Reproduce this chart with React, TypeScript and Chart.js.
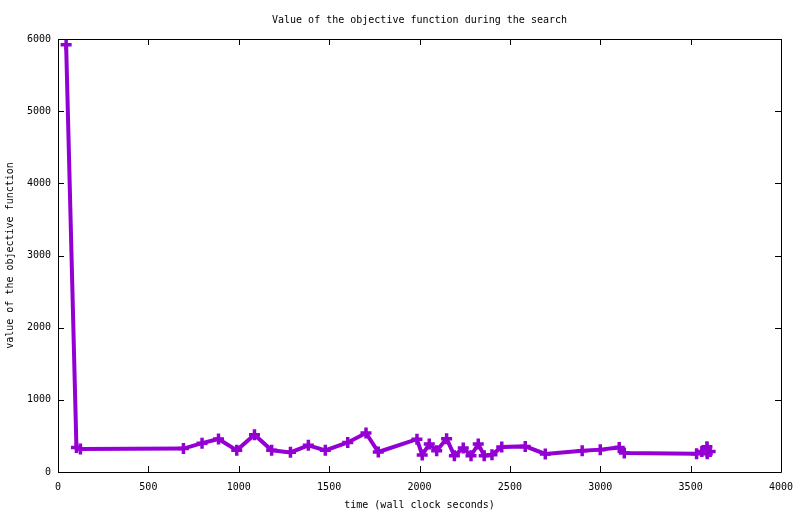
import { useEffect, useRef } from 'react';
import Chart from 'chart.js/auto';

// wall clock seconds / objective value
const times = [
  45, 102, 124, 694, 797, 888, 989, 1087, 1182, 1286, 1385, 1479, 1603, 1704,
  1772, 1986, 2015, 2054, 2095, 2150, 2193, 2242, 2285, 2325, 2358, 2401, 2455,
  2585, 2696, 2900, 3000, 3105, 3133, 3533, 3562, 3590, 3592, 3608,
];
const values = [
  5920, 340, 320, 325, 400, 457, 300, 517, 300, 272, 369, 300, 410, 540,
  277, 455, 235, 388, 295, 461, 226, 332, 226, 388, 226, 240, 345,
  355, 250, 295, 310, 340, 263, 254, 285, 350, 254, 285,
];

const xTicks = [0, 500, 1000, 1500, 2000, 2500, 3000, 3500, 4000];
const yTicks = [0, 1000, 2000, 3000, 4000, 5000, 6000];

const FONT = "'DejaVu Sans Mono', monospace";
const TITLE = 'Value of the objective function during the search';

// gnuplot-ish frame: box round the plot, ticks pointing inward on all sides, title centred on plot
const framePlugin = {
  id: 'frame',
  afterDraw(chart: Chart) {
    const { ctx, chartArea } = chart;
    const { left, right, top, bottom } = chartArea;
    const xs = chart.scales.x;
    const ys = chart.scales.y;
    ctx.save();
    ctx.strokeStyle = '#000';
    ctx.lineWidth = 1;
    ctx.beginPath();
    ctx.rect(Math.round(left) + 0.5, Math.round(top) + 0.5, Math.round(right - left), Math.round(bottom - top));
    const len = 6;
    xTicks.forEach(v => {
      const px = Math.round(xs.getPixelForValue(v)) + 0.5;
      ctx.moveTo(px, bottom);
      ctx.lineTo(px, bottom - len);
      ctx.moveTo(px, top);
      ctx.lineTo(px, top + len);
    });
    yTicks.forEach(v => {
      const py = Math.round(ys.getPixelForValue(v)) + 0.5;
      ctx.moveTo(left, py);
      ctx.lineTo(left + len, py);
      ctx.moveTo(right, py);
      ctx.lineTo(right - len, py);
    });
    ctx.stroke();

    ctx.fillStyle = '#000';
    ctx.font = `10px ${FONT}`;
    ctx.textAlign = 'center';
    ctx.textBaseline = 'middle';
    ctx.fillText(TITLE, (left + right) / 2, 20);
    ctx.restore();
  },
};

export default function App() {
  const chartRef = useRef<HTMLCanvasElement>(null);
  const chartInstance = useRef<Chart | null>(null);

  useEffect(() => {
    if (chartRef.current) {
      if (chartInstance.current) {
        chartInstance.current.destroy();
      }

      const ctx = chartRef.current.getContext('2d');
      if (ctx) {
        chartInstance.current = new Chart(ctx, {
          type: 'scatter',
          data: {
            datasets: [{
              data: times.map((t, i) => ({ x: t, y: values[i] })),
              showLine: true,
              borderColor: '#9400D3',
              backgroundColor: '#9400D3',
              borderWidth: 4,
              pointStyle: 'cross',
              pointRadius: 5.5,
              pointBorderWidth: 3.5,
              pointHoverRadius: 5.5,
              clip: false,
            }]
          },
          options: {
            responsive: false,
            animation: false,
            layout: {
              padding: { top: 39, right: 19, left: 0, bottom: 0 }
            },
            plugins: {
              legend: { display: false },
              tooltip: { enabled: false },
              title: { display: false }
            },
            scales: {
              x: {
                type: 'linear',
                min: 0,
                max: 4000,
                afterBuildTicks: (s: any) => { s.ticks = xTicks.map(v => ({ value: v })); },
                afterFit: (s: any) => { s.height = 42; s.paddingRight = 0; s.paddingLeft = 0; },
                grid: { display: false, drawTicks: false },
                border: { display: false },
                ticks: {
                  color: '#000',
                  padding: 9,
                  maxRotation: 0,
                  callback: (v: any) => String(v),
                  font: { family: FONT, size: 10 }
                },
                title: {
                  display: true,
                  text: 'time (wall clock seconds)',
                  color: '#000',
                  padding: { top: 0, bottom: 3 },
                  font: { family: FONT, size: 10 }
                }
              },
              y: {
                type: 'linear',
                min: 0,
                max: 6000,
                afterBuildTicks: (s: any) => { s.ticks = yTicks.map(v => ({ value: v })); },
                afterFit: (s: any) => { s.width = 58; },
                grid: { display: false, drawTicks: false },
                border: { display: false },
                ticks: {
                  color: '#000',
                  padding: 7,
                  callback: (v: any) => String(v),
                  font: { family: FONT, size: 10 }
                },
                title: {
                  display: true,
                  text: 'value of the objective function',
                  color: '#000',
                  padding: { top: 4, bottom: 0 },
                  font: { family: FONT, size: 10 }
                }
              }
            }
          },
          plugins: [framePlugin]
        });
      }
    }

    return () => {
      if (chartInstance.current) {
        chartInstance.current.destroy();
      }
    };
  }, []);

  return (
    <div style={{ position: 'fixed', left: 0, top: 0, width: 800, height: 514, background: '#fff' }}>
      <canvas ref={chartRef} width={800} height={514} />
    </div>
  );
}
